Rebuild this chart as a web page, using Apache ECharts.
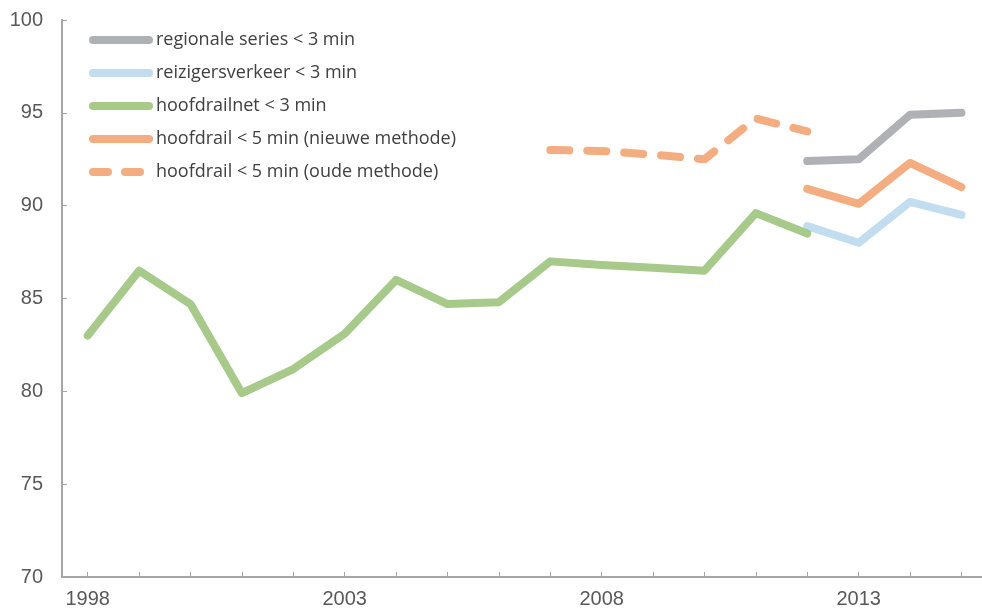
<!DOCTYPE html>
<html>
<head>
<meta charset="utf-8">
<script src="https://cdn.jsdelivr.net/npm/echarts@6/dist/echarts.min.js"></script>
<style>
  html, body { margin: 0; padding: 0; background: #fff; }
  #chart { width: 982px; height: 609px; }
</style>
</head>
<body>
<div id="chart"></div>
<script>
  // jaren en waarden (punctualiteit in %)
  const years = [1998, 1999, 2000, 2001, 2002, 2003, 2004, 2005, 2006, 2007, 2008, 2009, 2010, 2011, 2012, 2013, 2014, 2015]
  const labelYears = [1998, 2003, 2008, 2013]

  const regionaal = [null, null, null, null, null, null, null, null, null, null, null, null, null, null, 92.4, 92.5, 94.9, 95.0]
  const reizigers = [null, null, null, null, null, null, null, null, null, null, null, null, null, null, 88.9, 88.0, 90.2, 89.5]
  const hoofdrailnet3 = [83.0, 86.5, 84.7, 79.9, 81.2, 83.1, 86.0, 84.7, 84.8, 87.0, 86.8, 86.65, 86.5, 89.6, 88.5, null, null, null]
  const hoofdrail5Nieuw = [null, null, null, null, null, null, null, null, null, null, null, null, null, null, 90.9, 90.1, 92.3, 91.0]
  const hoofdrail5Oud = [null, null, null, null, null, null, null, null, null, 93.0, 92.95, 92.75, 92.5, 94.7, 94.0, null, null, null]

  const axisColor = '#a6a6a6'
  const labelColor = '#595959'

  // legenda-iconen: dikke lijn met ronde uiteinden, en gestreept
  const iconSolid = 'path://M4,0 H60 A4,4 0 0 1 60,8 H4 A4,4 0 0 1 4,0 Z'
  const iconDash = 'path://M4,0 H19 A4,4 0 0 1 19,8 H4 A4,4 0 0 1 4,0 Z M36,0 H51 A4,4 0 0 1 51,8 H36 A4,4 0 0 1 36,0 Z M64,4 L64,4.01 Z'

  function pairs(vals) {
    let out = []
    for (let i = 0; i < years.length; i++) {
      if (vals[i] != null) out.push([years[i], vals[i]])
    }
    return out
  }

  function line(name, vals, color, dashed) {
    return {
      name: name,
      type: 'line',
      data: pairs(vals),
      showSymbol: false,
      symbol: 'none',
      lineStyle: {
        color: color,
        width: 8,
        cap: 'round',
        join: 'round',
        type: dashed ? [19, 18] : 'solid'
      },
      itemStyle: { color: color }
    }
  }

  const chart = echarts.init(document.getElementById('chart'))
  chart.setOption({
    animation: false,
    backgroundColor: '#fff',
    grid: { left: 62, right: 0, top: 20, bottom: 31 },
    legend: {
      orient: 'vertical',
      left: 84,
      top: 25,
      itemWidth: 64,
      itemHeight: 8,
      itemGap: 13,
      textStyle: {
        fontFamily: 'Open Sans',
        fontSize: 18,
        lineHeight: 20,
        color: '#404040',
        padding: [0, 0, 0, -2]
      },
      data: [
        { name: 'regionale series < 3 min', icon: iconSolid },
        { name: 'reizigersverkeer < 3 min', icon: iconSolid },
        { name: 'hoofdrailnet < 3 min', icon: iconSolid },
        { name: 'hoofdrail < 5 min (nieuwe methode)', icon: iconSolid },
        { name: 'hoofdrail < 5 min (oude methode)', icon: iconDash }
      ]
    },
    xAxis: {
      type: 'value',
      min: 1997.5,
      max: 2015.4,
      splitLine: { show: false },
      axisLine: { lineStyle: { color: axisColor, width: 2 } },
      axisTick: {
        inside: true,
        length: 5,
        customValues: years,
        lineStyle: { color: axisColor, width: 1 }
      },
      axisLabel: {
        customValues: labelYears,
        formatter: function (v) { return String(v) },
        fontFamily: 'Liberation Sans',
        fontSize: 20,
        color: labelColor,
        margin: 12
      }
    },
    yAxis: {
      type: 'value',
      min: 70,
      max: 100,
      interval: 5,
      splitLine: { show: false },
      axisLine: { show: true, lineStyle: { color: axisColor, width: 2 } },
      axisTick: { show: true, inside: true, length: 5, lineStyle: { color: axisColor, width: 1 } },
      axisLabel: {
        fontFamily: 'Liberation Sans',
        fontSize: 20,
        color: labelColor,
        margin: 19
      }
    },
    series: [
      line('regionale series < 3 min', regionaal, '#b0b1b5'),
      line('reizigersverkeer < 3 min', reizigers, '#c1ddef'),
      line('hoofdrailnet < 3 min', hoofdrailnet3, '#a7c98a'),
      line('hoofdrail < 5 min (nieuwe methode)', hoofdrail5Nieuw, '#f4ad80'),
      line('hoofdrail < 5 min (oude methode)', hoofdrail5Oud, '#f4ad80', true)
    ]
  })
</script>
</body>
</html>
